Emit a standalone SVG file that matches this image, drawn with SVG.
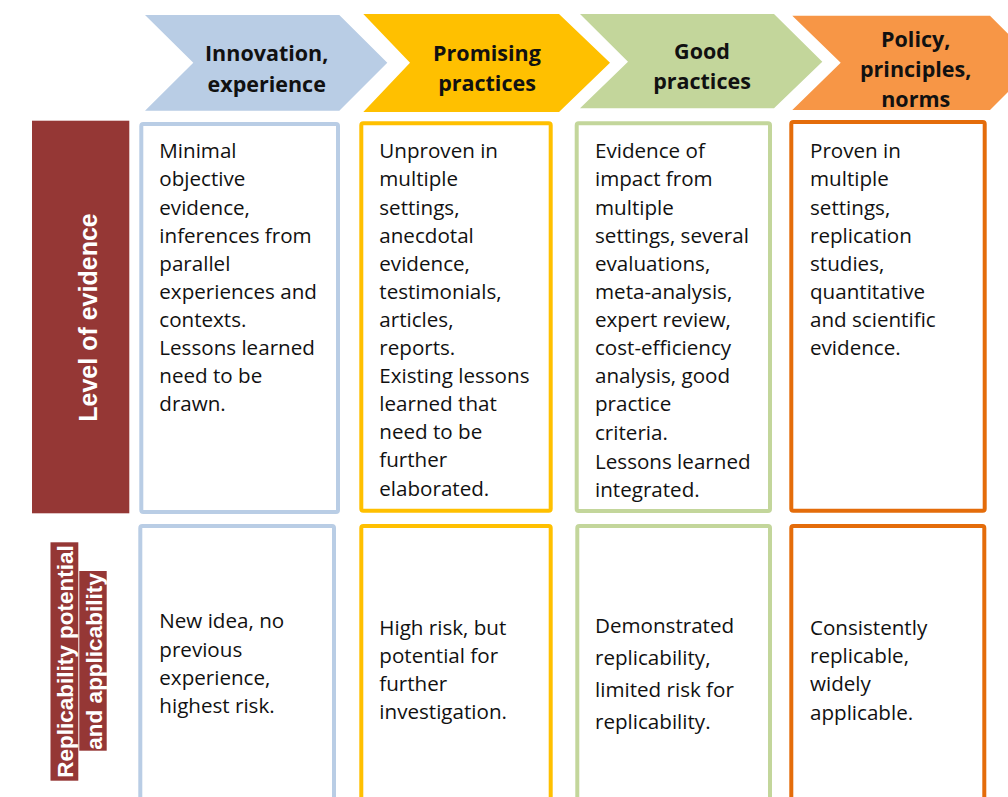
<svg xmlns="http://www.w3.org/2000/svg" width="1008" height="797" viewBox="0 0 1008 797">
<style>
.b{font-family:"Open Sans","Liberation Sans",sans-serif;font-size:20.6px;fill:#111}
.h{font-family:"Open Sans","Liberation Sans",sans-serif;font-size:21.5px;font-weight:bold;fill:#111;text-anchor:middle}
.v{font-family:"Liberation Sans",Arial,sans-serif;font-weight:bold;fill:#fff;text-anchor:middle}
.box{fill:#fff;stroke-width:4}
.blue{stroke:#B9CDE5}.yel{stroke:#FFC000}.grn{stroke:#C3D69B}.org{stroke:#E46C0A}
</style>
<rect width="1008" height="797" fill="#fff"/>
<g id="connectors"/>
<g id="stage-innovation">
<polygon points="145,15 339.3,15 387.3,62.7 339.3,110.7 145,110.7 193.3,62.7" fill="#B9CDE5"/>
<text class="h"><tspan x="266.7" y="61">Innovation,</tspan><tspan x="266.7" y="91.5">experience</tspan></text>
</g>
<g id="stage-promising">
<polygon points="363.3,14 559,14 610,62.7 559,112 363.3,112 410,62.7" fill="#FFC000"/>
<text class="h"><tspan x="487" y="61">Promising</tspan><tspan x="487" y="90.5">practices</tspan></text>
</g>
<g id="stage-good">
<polygon points="580,14 774,14 822.3,61.7 774,108.3 580,108.3 628,61.7" fill="#C3D69B"/>
<text class="h"><tspan x="702" y="59.3">Good</tspan><tspan x="702" y="89.3">practices</tspan></text>
</g>
<g id="stage-policy">
<polygon points="792.3,15.7 990,15.7 1037,62.7 990,110 792.3,110 840.7,62.7" fill="#F79646"/>
<text class="h"><tspan x="915.7" y="46.7">Policy,</tspan><tspan x="915.7" y="76.7">principles,</tspan><tspan x="915.7" y="106.7">norms</tspan></text>
</g>
<g id="label-evidence">
<rect x="32" y="120.7" width="97.3" height="392.6" fill="#953735"/>
<text class="v" font-size="25" transform="translate(96.5,317.5) rotate(-90)">Level of evidence</text>
</g>
<g id="label-replicability">
<rect x="50.5" y="542.3" width="27.8" height="238.4" fill="#953735"/>
<rect x="79.3" y="571" width="27.4" height="179.7" fill="#953735"/>
<text class="v" font-size="22.5" transform="translate(73.3,661.5) rotate(-90)">Replicability potential</text>
<text class="v" font-size="22.5" transform="translate(101.5,661.5) rotate(-90)">and applicability</text>
</g>
<g id="evidence-innovation">
<rect class="box blue" x="141.3" y="124" width="196.7" height="388" rx="2"/>
<text class="b"><tspan x="159.3" y="158.3">Minimal</tspan><tspan x="159.3" y="186.4">objective</tspan><tspan x="159.3" y="214.5">evidence,</tspan><tspan x="159.3" y="242.6">inferences from</tspan><tspan x="159.3" y="270.7">parallel</tspan><tspan x="159.3" y="298.8">experiences and</tspan><tspan x="159.3" y="326.9">contexts.</tspan><tspan x="159.3" y="355">Lessons learned</tspan><tspan x="159.3" y="383.1">need to be</tspan><tspan x="159.3" y="411.2">drawn.</tspan></text>
</g>
<g id="evidence-promising">
<rect class="box yel" x="361.3" y="123.3" width="189.4" height="387.4" rx="2"/>
<text class="b"><tspan x="379.3" y="158.3">Unproven in</tspan><tspan x="379.3" y="186.4">multiple</tspan><tspan x="379.3" y="214.5">settings,</tspan><tspan x="379.3" y="242.6">anecdotal</tspan><tspan x="379.3" y="270.7">evidence,</tspan><tspan x="379.3" y="298.8">testimonials,</tspan><tspan x="379.3" y="326.9">articles,</tspan><tspan x="379.3" y="355">reports.</tspan><tspan x="379.3" y="383.1">Existing lessons</tspan><tspan x="379.3" y="411.2">learned that</tspan><tspan x="379.3" y="439.3">need to be</tspan><tspan x="379.3" y="467.4">further</tspan><tspan x="379.3" y="495.5">elaborated.</tspan></text>
</g>
<g id="evidence-good">
<rect class="box grn" x="576.7" y="123.3" width="193.3" height="387.7" rx="2"/>
<text class="b"><tspan x="595" y="158.3">Evidence of</tspan><tspan x="595" y="186.4">impact from</tspan><tspan x="595" y="214.5">multiple</tspan><tspan x="595" y="242.6">settings, several</tspan><tspan x="595" y="270.7">evaluations,</tspan><tspan x="595" y="298.8">meta-analysis,</tspan><tspan x="595" y="326.9">expert review,</tspan><tspan x="595" y="355">cost-efficiency</tspan><tspan x="595" y="383.1">analysis, good</tspan><tspan x="595" y="411.2">practice</tspan><tspan x="595" y="440">criteria.</tspan><tspan x="595" y="468.6">Lessons learned</tspan><tspan x="595" y="496.7">integrated.</tspan></text>
</g>
<g id="evidence-policy">
<rect class="box org" x="791.3" y="122" width="193.4" height="388.7" rx="2"/>
<text class="b"><tspan x="810" y="158.3">Proven in</tspan><tspan x="810" y="186.4">multiple</tspan><tspan x="810" y="214.5">settings,</tspan><tspan x="810" y="242.6">replication</tspan><tspan x="810" y="270.7">studies,</tspan><tspan x="810" y="298.8">quantitative</tspan><tspan x="810" y="326.9">and scientific</tspan><tspan x="810" y="355">evidence.</tspan></text>
</g>
<g id="replicability-innovation">
<rect class="box blue" x="140.3" y="526" width="193.7" height="300" rx="2"/>
<text class="b"><tspan x="159.3" y="628.3">New idea, no</tspan><tspan x="159.3" y="656.6">previous</tspan><tspan x="159.3" y="684.9">experience,</tspan><tspan x="159.3" y="713.2">highest risk.</tspan></text>
</g>
<g id="replicability-promising">
<rect class="box yel" x="361.3" y="526" width="189.4" height="300" rx="2"/>
<text class="b"><tspan x="379.3" y="634.5">High risk, but</tspan><tspan x="379.3" y="662.8">potential for</tspan><tspan x="379.3" y="691.1">further</tspan><tspan x="379.3" y="719.4">investigation.</tspan></text>
</g>
<g id="replicability-good">
<rect class="box grn" x="577.3" y="526" width="192.7" height="300" rx="2"/>
<text class="b"><tspan x="595" y="632.7">Demonstrated</tspan><tspan x="595" y="664.9">replicability,</tspan><tspan x="595" y="697.1">limited risk for</tspan><tspan x="595" y="729.3">replicability.</tspan></text>
</g>
<g id="replicability-policy">
<rect class="box org" x="791.3" y="526" width="193" height="300" rx="2"/>
<text class="b"><tspan x="810" y="634.8">Consistently</tspan><tspan x="810" y="663.1">replicable,</tspan><tspan x="810" y="691.4">widely</tspan><tspan x="810" y="719.7">applicable.</tspan></text>
</g>
</svg>
